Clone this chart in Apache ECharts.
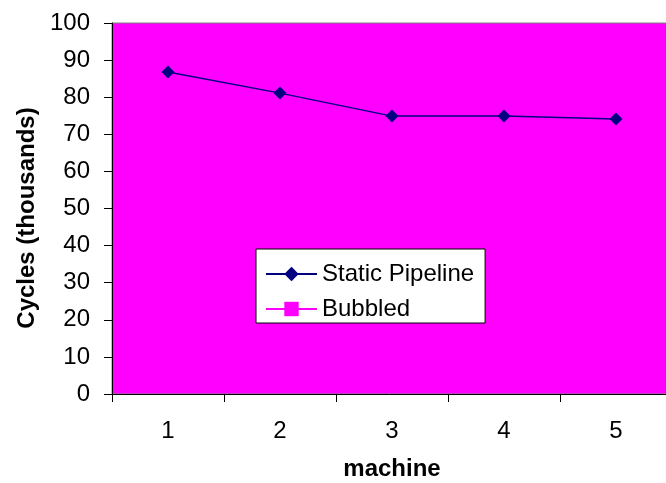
<!DOCTYPE html>
<html>
<head>
<meta charset="utf-8">
<script src="https://cdn.jsdelivr.net/npm/echarts@6/dist/echarts.min.js"></script>
<style>
  html, body { margin: 0; padding: 0; background: #fff; }
  #chart { width: 666px; height: 483px; }
</style>
</head>
<body>
<div id="chart"></div>
<script>
// Cycle counts per machine configuration (thousands)
var machines = ['1', '2', '3', '4', '5'];
var staticPipeline = [86.8, 81.1, 74.9, 74.9, 74.1];
var bubbled = [];
var yTicks = { min: 0, max: 100, interval: 10 };

var FONT = 'Liberation Sans, Arial, sans-serif';

var chart = echarts.init(document.getElementById('chart'), null, { renderer: 'canvas' });

chart.setOption({
  animation: false,
  backgroundColor: '#ffffff',
  grid: {
    left: 112,
    top: 23,
    width: 560,
    height: 371,
    outerBoundsMode: 'none',
    containLabel: false,
    show: true,
    backgroundColor: '#FF00FF',
    borderColor: '#808080',
    borderWidth: 1
  },
  xAxis: {
    type: 'category',
    data: machines,
    boundaryGap: true,
    name: 'machine',
    nameLocation: 'middle',
    nameGap: 63,
    nameTextStyle: { fontFamily: FONT, fontSize: 24, fontWeight: 'bold', color: '#000' },
    axisLine: { lineStyle: { color: '#000', width: 1 } },
    axisTick: { show: true, length: 8, alignWithLabel: false, lineStyle: { color: '#000' } },
    axisLabel: { fontFamily: FONT, fontSize: 24, color: '#000', margin: 25 },
    splitLine: { show: false }
  },
  yAxis: {
    type: 'value',
    min: yTicks.min,
    max: yTicks.max,
    interval: yTicks.interval,
    axisLine: { show: true, lineStyle: { color: '#000', width: 1 } },
    axisTick: { show: true, length: 8, lineStyle: { color: '#000' } },
    axisLabel: { fontFamily: FONT, fontSize: 24, color: '#000', margin: 22 },
    splitLine: { show: false }
  },
  graphic: [
    {
      type: 'text',
      x: 27,
      y: 218,
      rotation: Math.PI / 2,
      style: {
        text: 'Cycles (thousands)',
        fontFamily: FONT,
        fontSize: 24,
        fontWeight: 'bold',
        fill: '#000',
        textAlign: 'center',
        textVerticalAlign: 'middle'
      }
    }
  ],
  legend: {
    orient: 'vertical',
    left: 256,
    top: 249,
    backgroundColor: '#ffffff',
    borderColor: '#000',
    borderWidth: 1,
    padding: [13, 11, 2, 9],
    itemWidth: 51,
    itemHeight: 18,
    itemGap: 11,
    textStyle: { fontFamily: FONT, fontSize: 24, color: '#000' },
    data: ['Static Pipeline', 'Bubbled']
  },
  series: [
    {
      name: 'Static Pipeline',
      type: 'line',
      data: staticPipeline,
      symbol: 'diamond',
      symbolSize: [13, 13],
      lineStyle: { color: '#000080', width: 1.5 },
      itemStyle: { color: '#000080' }
    },
    {
      name: 'Bubbled',
      type: 'line',
      data: bubbled,
      symbol: 'rect',
      symbolSize: [11, 11],
      lineStyle: { color: '#FF00FF', width: 1.5 },
      itemStyle: { color: '#FF00FF' }
    }
  ]
});
</script>
</body>
</html>
